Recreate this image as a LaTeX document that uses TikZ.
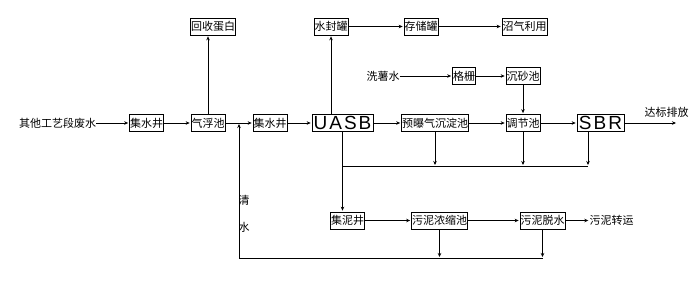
\documentclass[tikz,border=0pt]{standalone}
\usepackage{fontspec}
\newfontfamily\cjk{Noto Sans CJK SC}
\newfontfamily\lat{Liberation Sans}
\usetikzlibrary{arrows.meta}
\tikzset{
    box/.style={draw, line width=0.7pt, font=\cjk\fontsize{11}{11}\selectfont, inner xsep=0.5pt, inner ysep=0pt, minimum height=17pt},
    lbox/.style={draw, line width=0.7pt, font=\lat\fontsize{19}{19}\selectfont, inner sep=0pt, minimum height=17pt},
    txt/.style={font=\cjk\fontsize{11}{11}\selectfont, inner sep=0pt},
    flow/.style={line width=0.7pt, -{Stealth[length=4pt,width=3.5pt]}, shorten >=1pt},
    pipe/.style={line width=0.7pt}
}

\begin{document}
\begin{tikzpicture}[x=1pt, y=-1pt]
                \useasboundingbox (0,0) rectangle (698,287);
                \node[txt] (src) at (57.5,123) {其他工艺段废水};
                \node[box] (jsj1) at (146.5,123) {集水井};
                \node[box] (qfc) at (208,123) {气浮池};
                \node[box] (jsj2) at (270,123) {集水井};
                \node[lbox, minimum width=61pt] (uasb) at (342.5,123) {U\hspace{2pt}A\hspace{2pt}S\hspace{2pt}B};
                \node[box] (yqc) at (435,123) {预曝气沉淀池};
                \node[box] (tjc) at (523,123) {调节池};
                \node[lbox, minimum width=47pt] (sbr) at (600.5,123) {S\hspace{2pt}B\hspace{2pt}R};
                \coordinate (out) at (677,123);
                \node[txt] (dbpf) at (666.5,112) {达标排放};
                \node[box] (hsdb) at (213,26.5) {回收蛋白};
                \node[box] (sfg) at (331,26.5) {水封罐};
                \node[box] (ccg) at (421,26.5) {存储罐};
                \node[box] (zqly) at (524.5,26.5) {沼气利用};
                \node[txt] (xsw) at (383,76) {洗薯水};
                \node[box] (gs) at (464,76) {格栅};
                \node[box] (csc) at (523,76) {沉砂池};
                \node[box] (jnj) at (347.5,220.5) {集泥井};
                \node[box] (wnc) at (439.5,220.5) {污泥浓缩池};
                \node[box] (wtt) at (542.5,220.5) {污泥脱水};
                \node[txt] (wnzy) at (611.5,220.5) {污泥转运};
                \node[txt] (qs1) at (244,200) {清};
                \node[txt] (qs2) at (244,227) {水};
                \coordinate (sl) at (588,166);
                \coordinate (rt) at (239,258);
                \draw[flow] (src) -- (jsj1);
                \draw[flow] (jsj1) -- (qfc);
                \draw[flow] (qfc) -- (jsj2);
                \draw[flow] (jsj2) -- (uasb);
                \draw[flow] (uasb) -- (yqc);
                \draw[flow] (yqc) -- (tjc);
                \draw[flow] (tjc) -- (sbr);
                \draw[flow] (sbr) -- (out);
                \draw[flow] (qfc.north -| 208,0) -- (hsdb.south -| 208,0);
                \draw[flow] (uasb.north -| sfg) -- (sfg.south);
                \draw[flow] (sfg) -- (ccg);
                \draw[flow] (ccg) -- (zqly);
                \draw[flow] (xsw) -- (gs);
                \draw[flow] (gs) -- (csc);
                \draw[flow] (csc) -- (tjc);
                \draw[flow] (uasb.south) -- (uasb.south |- jnj.north);
                \draw[pipe] (uasb.south |- sl) -- (sl);
                \draw[flow] (yqc.south) -- (yqc.south |- sl);
                \draw[flow] (tjc.south) -- (tjc.south |- sl);
                \draw[flow] (sbr.south -| sl) -- (sl);
                \draw[flow] (jnj) -- (wnc);
                \draw[flow] (wnc) -- (wtt);
                \draw[flow] (wtt) -- (wnzy);
                \draw[flow] (wnc.south) -- (wnc.south |- rt);
                \draw[flow] (wtt.south) -- (wtt.south |- rt);
                \draw[flow] (wtt.south |- rt) -- (rt) -- (rt |- qfc);
            \end{tikzpicture}
\end{document}
